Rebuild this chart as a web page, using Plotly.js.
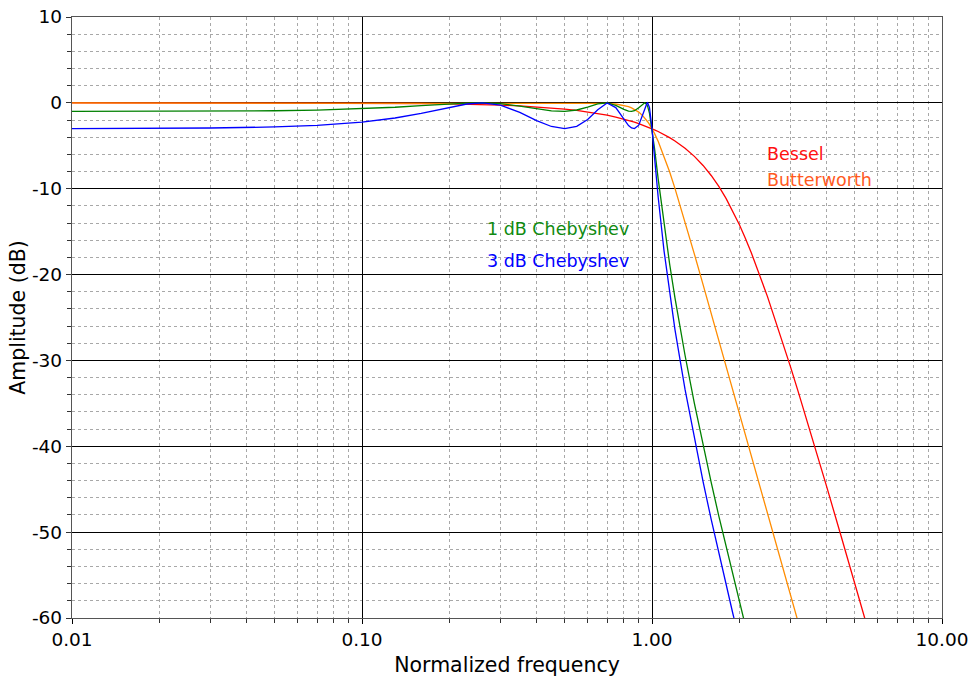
<!DOCTYPE html>
<html>
<head>
<meta charset="utf-8">
<script src="https://cdn.plot.ly/plotly-3.0.1.min.js"></script>
<style>html,body{margin:0;padding:0;background:#fff;}#chart{width:975px;height:681px;}</style>
</head>
<body>
<div id="chart"></div>
<script>
// Normalized frequency (shared by all series)
const freq = [0.01,0.02,0.03,0.05,0.07,0.1,0.13,0.16,0.2,0.23,0.26,0.3,0.35,0.4,0.45,0.5,0.55,0.6,0.65,0.7,0.75,0.8,0.83,0.85,0.87,0.9,0.93,0.944,0.96,0.966,0.98,1.0,1.02,1.05,1.1,1.15,1.2,1.3,1.4,1.5,1.6,1.7,1.8,1.9,2.0,2.1,2.2,2.5,2.8,3.0,3.2,3.5,4.0,4.5,5.0,5.5,6.0];

// Amplitude (dB)
const bessel = [0.000,-0.001,-0.003,-0.007,-0.014,-0.029,-0.049,-0.074,-0.116,-0.153,-0.196,-0.261,-0.355,-0.464,-0.589,-0.728,-0.883,-1.053,-1.239,-1.441,-1.660,-1.895,-2.044,-2.147,-2.252,-2.416,-2.587,-2.668,-2.764,-2.800,-2.885,-3.010,-3.138,-3.336,-3.682,-4.049,-4.438,-5.286,-6.234,-7.289,-8.457,-9.738,-11.126,-12.609,-14.172,-15.795,-17.460,-22.540,-27.517,-30.698,-33.751,-38.082,-44.676,-50.589,-55.928,-60.789,-65.245];

const butterworth = [0,0,0,0,0,0,0,0,0,0,0,0,0,0,0,-0.001,-0.003,-0.009,-0.025,-0.060,-0.135,-0.289,-0.441,-0.578,-0.748,-1.080,-1.517,-1.763,-2.076,-2.202,-2.516,-3.010,-3.557,-4.465,-6.168,-8.028,-9.963,-13.856,-17.611,-21.164,-24.510,-27.661,-30.636,-33.453,-36.125,-38.668,-41.091,-47.753,-53.659,-57.255,-60.618,-65.288,null,null,null,null,null];

const cheby1 = [-0.997,-0.987,-0.970,-0.918,-0.842,-0.692,-0.514,-0.329,-0.119,-0.023,-0.002,-0.098,-0.371,-0.696,-0.936,-0.994,-0.831,-0.489,-0.127,-0.007,-0.286,-0.768,-0.966,-0.998,-0.917,-0.572,-0.097,0.000,-0.204,-0.410,-1.200,-3.010,-5.276,-8.817,-14.176,-18.738,-22.703,-29.398,-35.003,-39.874,-44.210,-48.133,-51.725,-55.044,-58.134,-61.027,-63.749,-71.080,null,null,null,null,null,null,null,null,null];

const cheby3 = [-2.992,-2.969,-2.930,-2.806,-2.623,-2.245,-1.763,-1.217,-0.513,-0.134,0.000,-0.271,-1.119,-2.066,-2.751,-3.000,-2.734,-1.940,-0.798,-0.016,-0.547,-1.940,-2.643,-2.924,-2.995,-2.596,-1.464,-0.741,-0.074,0.000,-0.529,-3.000,-6.287,-10.933,-17.202,-22.199,-26.408,-33.384,-39.144,-44.116,-48.522,-52.496,-56.128,-59.478,-62.592,-65.506,-68.245,-75.613,null,null,null,null,null,null,null,null,null];

// Tick labels
const xTickVals = [0.01, 0.1, 1, 10];
const xTickText = ['0.01', '0.10', '1.00', '10.00'];
const xMinorVals = [0.02,0.03,0.04,0.05,0.06,0.07,0.08,0.09,0.2,0.3,0.4,0.5,0.6,0.7,0.8,0.9,2,3,4,5,6,7,8,9];
const yTickVals = [10, 0, -10, -20, -30, -40, -50, -60];
const yTickText = ['10', '0', '-10', '-20', '-30', '-40', '-50', '-60'];

const seriesNames = ['Bessel', 'Butterworth', '1 dB Chebyshev', '3 dB Chebyshev'];
const seriesData = [bessel, butterworth, cheby1, cheby3];
const lineColors = ['#ff0000', '#ff8c00', '#008000', '#0000ff'];
const labelColors = ['#ff1010', '#ff5a1e', '#108a10', '#0000ff'];

const traces = seriesData.map((ys, i) => ({
  type: 'scatter', mode: 'lines', name: seriesNames[i],
  x: freq, y: ys, connectgaps: false,
  line: {color: lineColors[i], width: 1.3},
  hoverinfo: 'skip'
}));

const labelPos = [
  {x: 0.796, y: -6.0},
  {x: 0.796, y: -9.0},
  {x: 0.475, y: -14.7},
  {x: 0.475, y: -18.4}
];

const annotations = seriesNames.map((t, i) => ({
  text: t, xref: 'paper', yref: 'y', x: labelPos[i].x, y: labelPos[i].y,
  xanchor: 'left', yanchor: 'middle', showarrow: false,
  font: {family: 'DejaVu Sans', size: 17.5, color: labelColors[i]}
}));

const layout = {
  width: 975, height: 681,
  margin: {l: 72, r: 33, t: 17, b: 63, pad: 0},
  paper_bgcolor: '#ffffff', plot_bgcolor: '#ffffff',
  font: {family: 'DejaVu Sans', size: 18.5, color: '#000'},
  showlegend: false,
  xaxis: {
    type: 'log', range: [-2, 1], automargin: false,
    tickmode: 'array', tickvals: xTickVals, ticktext: xTickText,
    ticks: 'outside', ticklen: 5, tickwidth: 1, tickcolor: '#000',
    showgrid: true, gridcolor: '#000', gridwidth: 1,
    showline: true, linecolor: '#555', linewidth: 1.2, mirror: true,
    zeroline: false,
    tickfont: {size: 18.5},
    minor: {tickmode: 'array', tickvals: xMinorVals, ticks: 'outside', ticklen: 4, tickcolor: '#333',
            showgrid: true, gridcolor: '#a8a8a8', griddash: 'dot', gridwidth: 1},
    title: {text: 'Normalized frequency', font: {size: 20.5}, standoff: 8}
  },
  yaxis: {
    range: [-60, 10], automargin: false,
    tickmode: 'array', tickvals: yTickVals, ticktext: yTickText,
    ticks: 'outside', ticklen: 5, tickwidth: 1, tickcolor: '#333',
    showgrid: true, gridcolor: '#000', gridwidth: 1,
    showline: true, linecolor: '#555', linewidth: 1.2, mirror: true,
    zeroline: false,
    tickfont: {size: 18.5},
    minor: {dtick: 2, tick0: 0, ticks: 'outside', ticklen: 4, tickcolor: '#333',
            showgrid: true, gridcolor: '#a8a8a8', griddash: 'dot', gridwidth: 1},
    title: {text: 'Amplitude (dB)', font: {size: 20.5}, standoff: 0}
  },
  annotations: annotations
};

Plotly.newPlot('chart', traces, layout, {staticPlot: true, displayModeBar: false});
</script>
</body>
</html>
